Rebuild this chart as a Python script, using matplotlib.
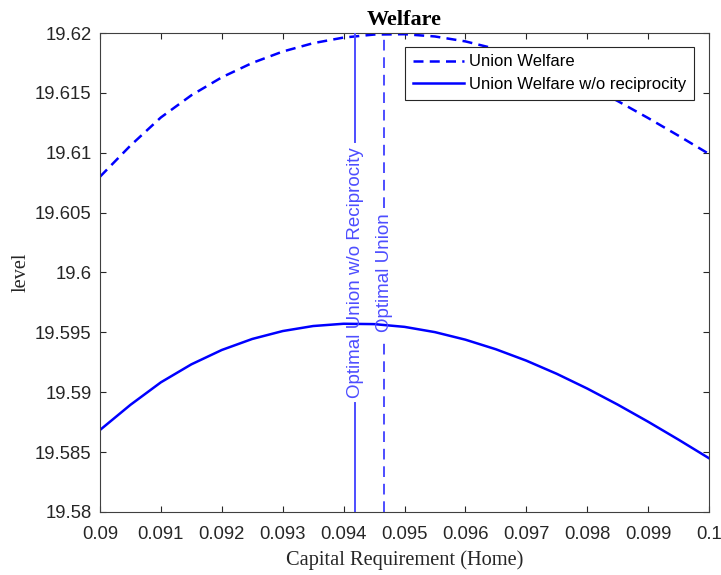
import matplotlib
matplotlib.use("Agg")
import matplotlib.pyplot as plt

# ---- data ----
capital_req = [0.0900, 0.0905, 0.0910, 0.0915, 0.0920, 0.0925, 0.0930, 0.0935,
               0.0940, 0.0945, 0.0950, 0.0955, 0.0960, 0.0965, 0.0970, 0.0975,
               0.0980, 0.0985, 0.0990, 0.0995, 0.1000]
union_welfare = [19.60800, 19.61060, 19.61295, 19.61480, 19.61630, 19.61750, 19.61845, 19.61915,
                 19.61962, 19.61987, 19.61990, 19.61971, 19.61930, 19.61867, 19.61784, 19.61682,
                 19.61564, 19.61432, 19.61290, 19.61142, 19.60990]
union_welfare_norecip = [19.58685, 19.58895, 19.59083, 19.59233, 19.59353, 19.59445, 19.59511, 19.59553,
                         19.59572, 19.59569, 19.59546, 19.59502, 19.59439, 19.59359, 19.59264, 19.59154,
                         19.59031, 19.58897, 19.58754, 19.58604, 19.58449]
opt_union = 0.09467
opt_union_norecip = 0.09419
series_labels = ["Union Welfare", "Union Welfare w/o reciprocity"]
vline_labels = ["Optimal Union", "Optimal Union w/o Reciprocity"]
xticks = [0.09, 0.091, 0.092, 0.093, 0.094, 0.095, 0.096, 0.097, 0.098, 0.099, 0.1]
xticklabels = ["0.09", "0.091", "0.092", "0.093", "0.094", "0.095", "0.096", "0.097", "0.098", "0.099", "0.1"]
yticks = [19.58, 19.585, 19.59, 19.595, 19.6, 19.605, 19.61, 19.615, 19.62]
yticklabels = ["19.58", "19.585", "19.59", "19.595", "19.6", "19.605", "19.61", "19.615", "19.62"]

sans = ["Liberation Sans", "DejaVu Sans"]
serif = ["Liberation Serif", "DejaVu Serif"]
axcol = "#262626"
vcol = (0.3, 0.3, 1.0)

fig = plt.figure(figsize=(7.21, 5.75), dpi=100)
ax = fig.add_axes([100 / 721, 63 / 575, 609 / 721, 479 / 575])

l1, = ax.plot(capital_req, union_welfare, color="blue", lw=1.8, linestyle=(0, (4, 2.5)))
l2, = ax.plot(capital_req, union_welfare_norecip, color="blue", lw=1.8)

ax.set_xlim(0.09, 0.1)
ax.set_ylim(19.58, 19.62)
ax.set_xticks(xticks)
ax.set_xticklabels(xticklabels, family=sans, fontsize=13.3, color=axcol)
ax.set_yticks(yticks)
ax.set_yticklabels(yticklabels, family=sans, fontsize=13.3, color=axcol)
ax.tick_params(direction="in", length=4, width=0.8, top=True, right=True, colors=axcol, pad=6)
ax.tick_params(axis="x", pad=10)
for s in ax.spines.values():
    s.set_color("#404040")
    s.set_linewidth(0.8)

ax.set_title("Welfare", family=serif, fontsize=16, fontweight="bold", pad=6)
ax.set_xlabel("Capital Requirement (Home)", family=serif, fontsize=14.7, color=axcol, labelpad=5)
ax.set_ylabel("level", family=serif, fontsize=14.7, color=axcol, labelpad=3)

# vertical lines with centred labels (gap in line behind label)
texts = []
specs = [(opt_union_norecip, vline_labels[1], "-"), (opt_union, vline_labels[0], (0, (5.5, 3.5)))]
for xv, lab, ls in specs:
    t = ax.text(xv, 0.5, lab, transform=ax.get_xaxis_transform(), rotation=90,
                ha="center", va="center", family=sans, fontsize=13.5, color=vcol, zorder=4)
    texts.append((t, xv, ls))

fig.canvas.draw()
inv = ax.transAxes.inverted()
for t, xv, ls in texts:
    bb = t.get_window_extent()
    y0 = inv.transform((0, bb.y0 - 5))[1]
    y1 = inv.transform((0, bb.y1 + 5))[1]
    ax.axvline(xv, ymin=0, ymax=y0, color=vcol, lw=1.4, linestyle=ls, zorder=3)
    ax.axvline(xv, ymin=y1, ymax=1, color=vcol, lw=1.4, linestyle=ls, zorder=3)

leg = ax.legend([l1, l2], series_labels, loc="upper right", bbox_to_anchor=(1 - 15 / 609, 1 - 14 / 479),
                prop={"family": sans, "size": 12}, frameon=True, fancybox=False,
                framealpha=1, edgecolor="#262626", handlelength=3.1, handletextpad=0.3,
                borderpad=0.45, labelspacing=0.45, borderaxespad=0)
leg.get_frame().set_linewidth(0.8)
leg.set_zorder(10)

fig.savefig("out.png", dpi=100)
